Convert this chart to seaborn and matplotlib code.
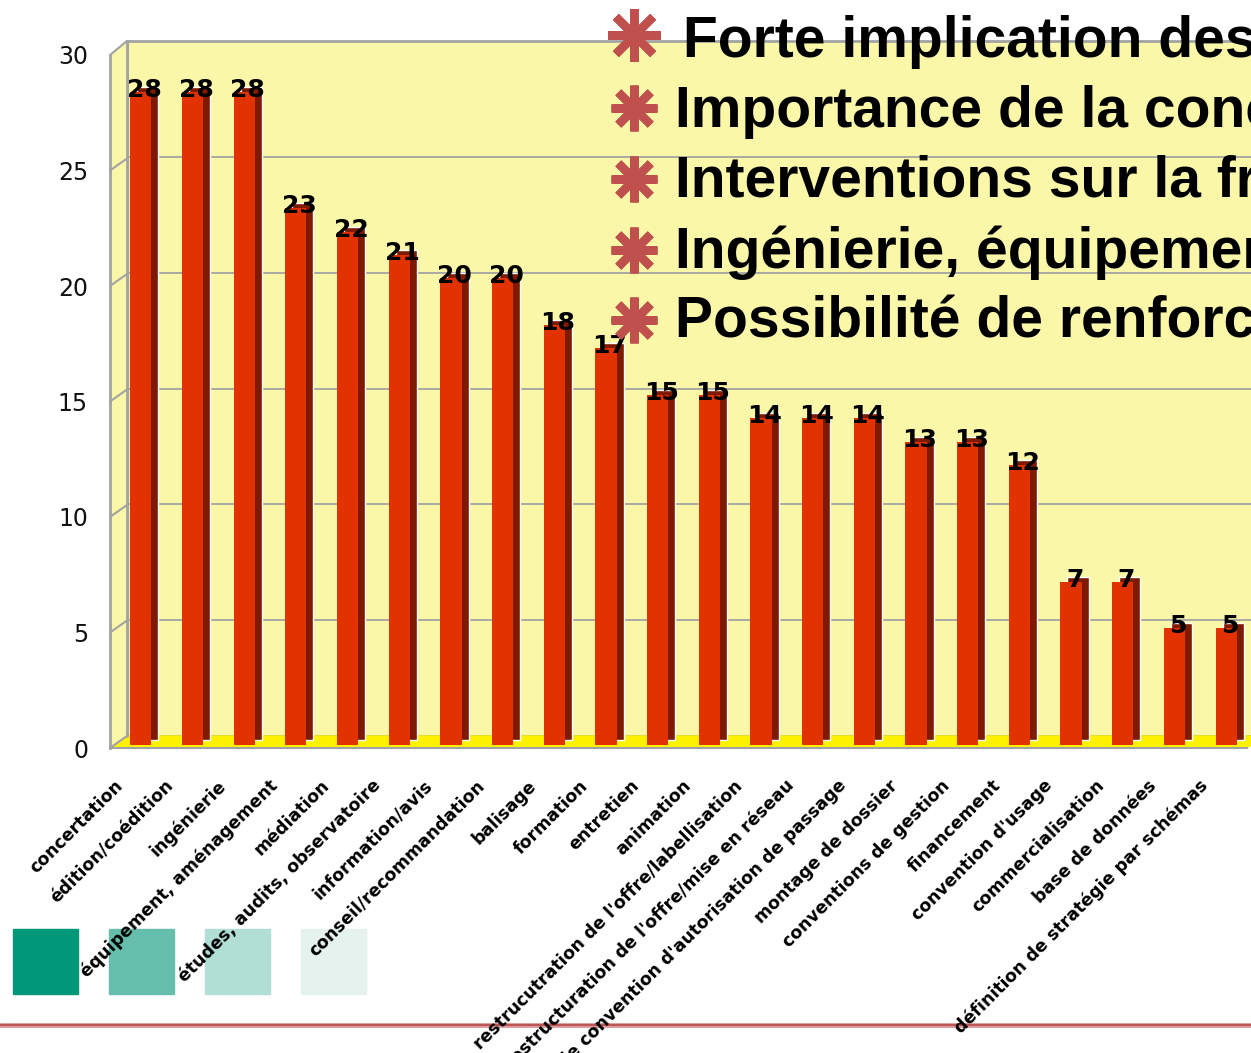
import numpy as np
import pandas as pd
import matplotlib
matplotlib.use('Agg')
import matplotlib.pyplot as plt
import seaborn as sns
from matplotlib.patches import Polygon, Rectangle
from matplotlib.lines import Line2D
from matplotlib.transforms import offset_copy

sns.set_style('white')
plt.rcParams['font.family'] = ['DejaVu Sans']
plt.rcParams['text.color'] = 'black'

# data
categories = [
    "concertation", "édition/coédition", "ingénierie", "équipement, aménagement",
    "médiation", "études, audits, observatoire", "information/avis",
    "conseil/recommandation", "balisage", "formation", "entretien", "animation",
    "restrucutration de l'offre/labellisation",
    "restructuration de l'offre/mise en réseau",
    "mise en place de convention d'autorisation de passage",
    "montage de dossier", "conventions de gestion", "financement",
    "convention d'usage", "commercialisation", "base de données",
    "définition de stratégie par schémas",
]
values = [28, 28, 28, 23, 22, 21, 20, 20, 18, 17, 15, 15, 14, 14, 14, 13, 13, 12, 7, 7, 5, 5]
yticks = [0, 5, 10, 15, 20, 25, 30]

bullet_lines = [
    "Forte implication des collectivités",
    "Importance de la concertation",
    "Interventions sur la fréquentation",
    "Ingénierie, équipement, aménagement",
    "Possibilité de renforcement",
]
legend_colors = ['#009878', '#66BFAC', '#B2DFD5', '#E5F2EE']

df = pd.DataFrame({'cat': categories, 'val': values})
n = len(categories)

W, H = 1251, 1053
fig = plt.figure(figsize=(W / 100, H / 100), dpi=100)


def px_axes(left, top, right, bottom):
    return fig.add_axes([left / W, 1 - bottom / H, (right - left) / W, (bottom - top) / H])


grey = '#a3a3a3'
wall = '#FAF7A8'

# back wall
ax_back = px_axes(127, 41, 127 + 51.68 * n, 736)
ax_back.set_facecolor(wall)
ax_back.set_xlim(-0.5, n - 0.5)
ax_back.set_ylim(0, 30)
ax_back.set_yticks(yticks)
ax_back.set_xticks([])
ax_back.tick_params(left=False, labelleft=False)
ax_back.grid(axis='y', color=grey, lw=1.3)
for s in ['bottom', 'right']:
    ax_back.spines[s].set_visible(False)
for s in ['left', 'top']:
    ax_back.spines[s].set_color(grey)
    ax_back.spines[s].set_linewidth(2)
ax_back.set_zorder(0)

# front axis: floor, left wall, ticks and labels
ax_front = px_axes(110, 55, 110 + 51.68 * n, 748)
ax_front.set_facecolor('none')
ax_front.set_xlim(-0.5, n - 0.5)
ax_front.set_ylim(0, 30)
ax_front.set_zorder(1)
ux = 51.68
uy = 693 / 30
dx, dy = 17 / ux, 12 / uy
x0 = -0.5
ax_front.add_patch(Polygon([(x0, 0), (n - 0.5, 0), (n - 0.5 + dx, dy), (x0 + dx, dy)],
                           closed=True, color='#FFF200', clip_on=False, zorder=0.5))
ax_front.add_patch(Polygon([(x0, 0), (x0, 30), (x0 + dx, 30 + 14 / uy), (x0 + dx, dy)],
                           closed=True, color=wall, clip_on=False, zorder=0.4))
for v in yticks:
    top = 14 / uy if v == 30 else dy
    ax_front.plot([x0, x0 + dx], [v, v + top], color=grey, lw=1.5, clip_on=False)
ax_front.plot([x0 + dx, x0 + dx], [dy, 30 + 14 / uy], color=grey, lw=2, clip_on=False)

for s in ['top', 'right']:
    ax_front.spines[s].set_visible(False)
ax_front.spines['left'].set_color(grey)
ax_front.spines['left'].set_linewidth(2)
ax_front.spines['bottom'].set_color(grey)
ax_front.spines['bottom'].set_linewidth(1.5)
ax_front.set_yticks(yticks)
ax_front.set_yticklabels([str(v) for v in yticks], fontsize=17, color='#111111')
ax_front.set_xticks(np.arange(-0.5, n, 1))
ax_front.set_xticklabels([])
ax_front.tick_params(axis='both', direction='out', length=10.8, width=1.5, color=grey)
ax_front.tick_params(axis='y', pad=5)

label_tr = offset_copy(ax_front.get_xaxis_transform(), fig=fig, x=-16, y=-35, units='dots')
for k, lab in enumerate(categories):
    ax_front.text(k, 0, lab, transform=label_tr, rotation=45, rotation_mode='anchor',
                  ha='right', va='center', fontsize=12.5, fontweight='bold',
                  color='black', clip_on=False)

# bars
ax_mid = px_axes(115, 45, 115 + 51.68 * n, 745)
ax_mid.set_zorder(2)
sns.barplot(data=df, x='cat', y='val', ax=ax_mid, color='#E23200', saturation=1,
            width=0.41, edgecolor='none', zorder=2)
side_tr = offset_copy(ax_mid.transData, fig=fig, x=7, y=5, units='dots')
ax_mid.bar(np.arange(n), df['val'], width=0.41, color='#7E1A00', transform=side_tr, zorder=1)
val_tr = offset_copy(ax_mid.transData, fig=fig, x=3.5, y=2, units='dots')
for k, v in enumerate(df['val']):
    ax_mid.text(k, v, str(v), transform=val_tr, ha='center', va='center',
                fontsize=18, fontweight='bold', color='black', zorder=3)
ax_mid.set_xlim(-0.5, n - 0.5)
ax_mid.set_ylim(0, 30)
ax_mid.axis('off')

# bullet text overlay
base_y = [57, 127, 197, 268, 338]
star_y = [35, 108, 179, 250, 320]
for i, line in enumerate(bullet_lines):
    tx = 683 if i == 0 else 675
    fig.text(tx / W, 1 - base_y[i] / H, line, fontsize=41, fontweight='bold',
             family='Liberation Sans', color='black', va='baseline', ha='left', zorder=5)
    ms = 38 if i == 0 else 33
    fig.add_artist(Line2D([634 / W], [1 - star_y[i] / H], marker=(8, 2, 0), markersize=ms,
                          markeredgewidth=6, color='#C0504D', transform=fig.transFigure,
                          zorder=5))

# colour squares and bottom line
for i, c in enumerate(legend_colors):
    fig.add_artist(Rectangle(((13 + 96 * i) / W, 1 - 994 / H), 65 / W, 65 / H,
                             transform=fig.transFigure, color=c, zorder=-1))
fig.add_artist(Line2D([0, 1], [1 - 1025 / H] * 2, color='#dc9a9a', lw=3.5,
                      transform=fig.transFigure, zorder=-1))
fig.add_artist(Line2D([0, 1], [1 - 1025 / H] * 2, color='#b84848', lw=1.2,
                      transform=fig.transFigure, zorder=-1))

fig.savefig('out.png', dpi=100)
